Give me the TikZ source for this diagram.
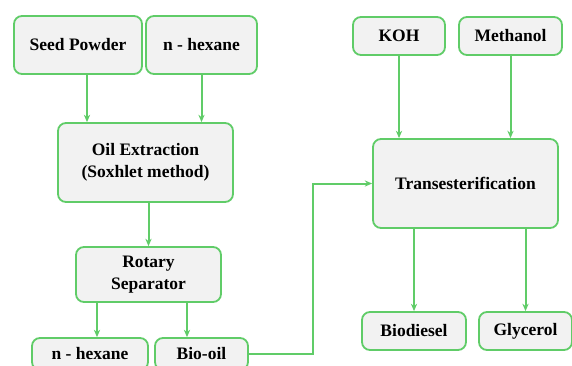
\documentclass[tikz,border=0pt]{standalone}
\usepackage{fontspec}
\setmainfont{Liberation Serif}
\usepackage{xcolor}
\usetikzlibrary{arrows.meta,positioning}
\definecolor{flowgreen}{RGB}{96,204,104}
\definecolor{boxgrey}{RGB}{242,242,242}
\begin{document}
\begin{tikzpicture}[x=1pt, y=-1pt,
  font=\fontsize{17.5}{22}\selectfont\bfseries,
  blk/.style={draw=flowgreen, line width=1.8pt, rounded corners=8pt, fill=boxgrey,
              align=center, inner sep=0pt},
  arr/.style={-{Stealth[length=2.6mm, width=2.2mm]}, draw=flowgreen, line width=2pt}]
\useasboundingbox (0,0) rectangle (572,365);
% --- extraction side ---
\node[blk, minimum width=128pt, minimum height=58pt] (seed) at (78,45) {Seed Powder};
\node[blk, minimum width=111pt, minimum height=58pt] (hexin) at (201.5,45) {n - hexane};
\node[blk, minimum width=175pt, minimum height=79pt] (ext) at (145.5,162.5) {Oil Extraction\\(Soxhlet method)};
\node[blk, minimum width=145pt, minimum height=55pt] (rot) at (148.5,274.5) {Rotary\\Separator};
\node[blk, minimum width=116pt, minimum height=32pt] (hexout) at (90,354) {n - hexane};
\node[blk, minimum width=93pt, minimum height=32pt] (bio) at (201.5,354) {Bio-oil};
% --- transesterification side ---
\node[blk, minimum width=92pt, minimum height=38pt] (koh) at (399,36) {KOH};
\node[blk, minimum width=103pt, minimum height=38pt] (meth) at (510.5,36) {Methanol};
\node[blk, minimum width=185pt, minimum height=89pt] (trans) at (465.5,183.5) {Transesterification};
\node[blk, minimum width=104pt, minimum height=38pt] (biod) at (414,331) {Biodiesel};
\node[blk, minimum width=93pt, minimum height=38pt] (gly) at (525.5,331) {Glycerol};
% --- arrows ---
\draw[arr] ([xshift=9pt]seed.south) -- ([xshift=9pt]seed.south |- ext.north);
\draw[arr] (hexin.south) -- (hexin.south |- ext.north);
\draw[arr] (rot.north |- ext.south) -- (rot.north);
\draw[arr] ([xshift=-51.5pt]rot.south) -- ([xshift=-51.5pt]rot.south |- hexout.north);
\draw[arr] ([xshift=38.5pt]rot.south) -- ([xshift=38.5pt]rot.south |- bio.north);
\draw[arr] (bio.east) -- ++(64.5,0) |- (trans.west);
\draw[arr] (koh.south) -- (koh.south |- trans.north);
\draw[arr] (meth.south) -- (meth.south |- trans.north);
\draw[arr] (biod.north |- trans.south) -- (biod.north);
\draw[arr] (gly.north |- trans.south) -- (gly.north);
\end{tikzpicture}
\end{document}
